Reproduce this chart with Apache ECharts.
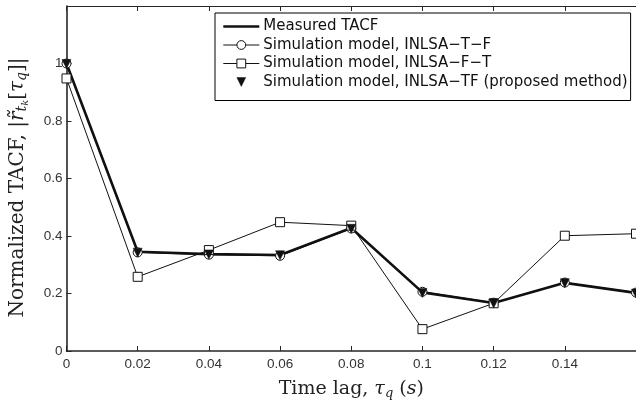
<!DOCTYPE html>
<html>
<head>
<meta charset="utf-8">
<script src="https://cdn.jsdelivr.net/npm/echarts@6/dist/echarts.min.js"></script>
<style>
  html, body { margin: 0; padding: 0; background: #fff; }
  #chart { width: 636px; height: 405px; }
</style>
</head>
<body>
<div id="chart"></div>
<script>
// Time lags (s)
const timeLags = [0, 0.02, 0.04, 0.06, 0.08, 0.10, 0.12, 0.14, 0.16];

// Normalized TACF values per time lag
const measuredTACF = [1.000, 0.345, 0.337, 0.334, 0.428, 0.204, 0.167, 0.237, 0.202];
const simT_F       = [1.000, 0.343, 0.335, 0.331, 0.426, 0.206, 0.168, 0.238, 0.203];
const simF_T       = [0.948, 0.258, 0.351, 0.448, 0.436, 0.076, 0.166, 0.401, 0.408];
const simTF        = [0.998, 0.342, 0.336, 0.333, 0.425, 0.202, 0.165, 0.236, 0.200];

const seriesNames = [
  'Measured TACF',
  'Simulation model, INLSA\u2212T\u2212F',
  'Simulation model, INLSA\u2212F\u2212T',
  'Simulation model, INLSA\u2212TF (proposed method)'
];

const pairs = arr => timeLags.map((t, i) => [t, arr[i]]);

const ink = '#111';
const axisColor = '#262626';
const labelFont = { fontFamily: 'Liberation Sans, Arial, sans-serif', fontSize: 13.5, color: '#333' };
const serif = 'DejaVu Serif, serif';

const chart = echarts.init(document.getElementById('chart'), null, { renderer: 'canvas' });

chart.setOption({
  animation: false,
  backgroundColor: '#fff',
  grid: { left: 63, right: -2, top: 6, bottom: 51, containLabel: false },
  legend: {
    left: 215,
    top: 13,
    orient: 'vertical',
    align: 'left',
    backgroundColor: '#fff',
    borderColor: '#000',
    borderWidth: 1,
    borderRadius: 0,
    padding: [6, 3, 11, 7],
    itemWidth: 36,
    itemHeight: 11,
    itemGap: 3.5,
    textStyle: { fontFamily: 'DejaVu Sans, sans-serif', fontSize: 15, color: ink, padding: [0, 0, 0, -1] },
    data: [
      { name: seriesNames[0], itemStyle: { opacity: 0 }, lineStyle: { width: 2.6, color: ink } },
      { name: seriesNames[1], itemStyle: { color: '#fff', borderColor: ink, borderWidth: 1 }, lineStyle: { width: 1, color: ink } },
      { name: seriesNames[2], itemStyle: { color: '#fff', borderColor: ink, borderWidth: 1 }, lineStyle: { width: 1, color: ink } },
      { name: seriesNames[3], itemStyle: { color: ink, borderColor: ink, borderWidth: 0.5 } }
    ]
  },
  xAxis: [{
    type: 'value',
    min: 0,
    max: 0.16,
    interval: 0.02,
    position: 'bottom',
    name: '{a|Time lag, }{i|\u03C4}{s|q}{a| (}{i|s}{a|)}',
    nameLocation: 'middle',
    nameGap: 27,
    nameTextStyle: {
      rich: {
        a: { fontFamily: serif, fontSize: 19, color: '#222' },
        i: { fontFamily: serif, fontSize: 19, fontStyle: 'italic', color: '#222' },
        s: { fontFamily: serif, fontSize: 13, fontStyle: 'italic', color: '#222', padding: [9, 0, 0, 0] }
      }
    },
    axisLine: { lineStyle: { color: axisColor, width: 1.6 } },
    axisTick: { inside: true, length: 5, lineStyle: { color: axisColor, width: 1 } },
    axisLabel: Object.assign({ margin: 6, showMaxLabel: false }, labelFont),
    splitLine: { show: false }
  }, {
    type: 'value',
    min: 0,
    max: 0.16,
    interval: 0.02,
    position: 'top',
    axisLine: { lineStyle: { color: axisColor, width: 1 } },
    axisTick: { inside: true, length: 5, lineStyle: { color: axisColor, width: 1 } },
    axisLabel: { show: false },
    splitLine: { show: false }
  }],
  yAxis: {
    type: 'value',
    min: 0,
    max: 1.2,
    interval: 0.2,
    name: '{a|Normalized TACF, |}{i|r\u0303}{s|t}{ss|k}{a|[}{i|\u03C4}{s|q}{a|]|}',
    nameLocation: 'middle',
    nameGap: 36,
    nameRotate: 90,
    nameTextStyle: {
      padding: [0, 18, 0, 0],
      rich: {
        a: { fontFamily: serif, fontSize: 20, color: '#222' },
        i: { fontFamily: serif, fontSize: 20, fontStyle: 'italic', color: '#222' },
        s: { fontFamily: serif, fontSize: 14, fontStyle: 'italic', color: '#222', padding: [9, 0, 0, 0] },
        ss: { fontFamily: serif, fontSize: 10, fontStyle: 'italic', color: '#222', padding: [15, 0, 0, 0] }
      }
    },
    axisLine: { show: true, lineStyle: { color: axisColor, width: 1.6 } },
    axisTick: { show: true, inside: true, length: 5, lineStyle: { color: axisColor, width: 1 } },
    axisLabel: Object.assign({
      margin: 4,
      formatter: v => (Math.abs(v - 1.2) < 1e-9 ? '' : String(Math.round(v * 10) / 10))
    }, labelFont),
    splitLine: { show: false }
  },
  series: [{
    name: seriesNames[0],
    type: 'line',
    data: pairs(measuredTACF),
    symbol: 'none',
    lineStyle: { color: ink, width: 2.6 },
    itemStyle: { color: ink },
    z: 2
  }, {
    name: seriesNames[1],
    type: 'line',
    data: pairs(simT_F),
    symbol: 'circle',
    symbolSize: 9,
    lineStyle: { color: ink, width: 1 },
    itemStyle: { color: '#fff', borderColor: ink, borderWidth: 1 },
    z: 3
  }, {
    name: seriesNames[2],
    type: 'line',
    data: pairs(simF_T),
    symbol: 'rect',
    symbolSize: 9,
    lineStyle: { color: ink, width: 1 },
    itemStyle: { color: '#fff', borderColor: ink, borderWidth: 1 },
    z: 3
  }, {
    name: seriesNames[3],
    type: 'line',
    data: pairs(simTF),
    symbol: 'triangle',
    symbolRotate: 180,
    symbolSize: 9,
    lineStyle: { width: 0, opacity: 0 },
    itemStyle: { color: ink, borderColor: ink, borderWidth: 0.5 },
    z: 4
  }]
});
</script>
</body>
</html>
